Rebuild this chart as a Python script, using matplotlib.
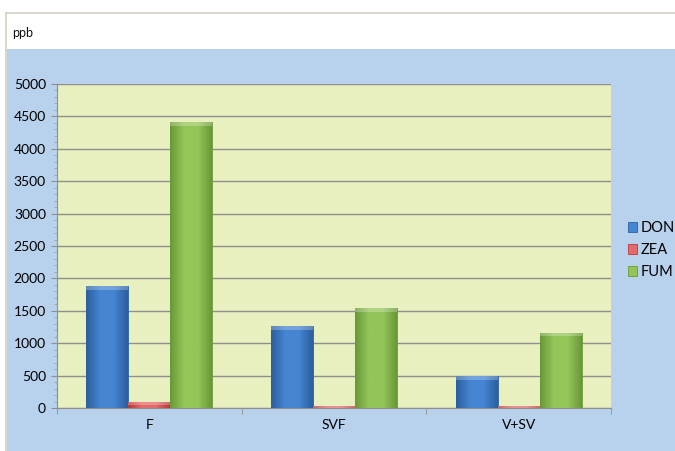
import matplotlib
matplotlib.use("Agg")
import matplotlib.pyplot as plt
import numpy as np
from matplotlib.patches import Rectangle
from matplotlib.lines import Line2D
from matplotlib.colors import LinearSegmentedColormap

categories = ["F", "SVF", "V+SV"]
series_names = ["DON", "ZEA", "FUM"]
don = [1880, 1270, 490]
zea = [100, 35, 30]
fum = [4410, 1540, 1165]
yticks = [0, 500, 1000, 1500, 2000, 2500, 3000, 3500, 4000, 4500, 5000]

colors = {"DON": ("#2c5f9f", "#4585d2"), "ZEA": ("#b83a3a", "#e56a6a"), "FUM": ("#6a9838", "#93c659")}

plt.rcParams['font.family'] = ['Lato', 'DejaVu Sans']
fig = plt.figure(figsize=(6.75, 4.51), dpi=100)
fig.patch.set_facecolor("white")

# blue background and header
fig.patches.append(Rectangle((7/675, 0), 1 - 7/675, (451-49)/451, transform=fig.transFigure,
                             facecolor="#b8d1ec", edgecolor="none", zorder=-10))
fig.lines.append(Line2D([6/675, 1], [(451-13)/451]*2, transform=fig.transFigure, color="#d6cfc2", lw=1.2, zorder=-5))
fig.lines.append(Line2D([6/675]*2, [0, (451-13)/451], transform=fig.transFigure, color="#d6cfc2", lw=1.2, zorder=-5))
fig.text(12/675, (451-33)/451, "ppb", fontsize=9, va="center", ha="left", color="#111111")

ax = fig.add_axes([57/675, (451-408)/451, (611-57)/675, (408-84)/451])
ax.set_zorder(1)
ax.set_facecolor("#e8f0c0")
ax.set_xlim(-0.5, 2.5)
ax.set_ylim(0, 5000)

x = np.arange(len(categories))
w = 0.227
data = [don, zea, fum]
for i, (name, vals) in enumerate(zip(series_names, data)):
    dark, light = colors[name]
    bars = ax.bar(x + (i - 1) * w, vals, width=w, color=light, edgecolor=dark, lw=0.6, zorder=3, label=name)
    cmap = LinearSegmentedColormap.from_list(name, [dark, light, light, dark])
    grad = np.linspace(0, 1, 64).reshape(1, -1)
    for b in bars:
        bx, by, bw, bh = b.get_x(), b.get_y(), b.get_width(), b.get_height()
        im = ax.imshow(grad, cmap=cmap, extent=(bx, bx + bw, by, by + bh), aspect="auto", zorder=3.5)
        im.set_clip_path(b)
        cap = min(bh, 60)
        ax.add_patch(Rectangle((bx, by + bh - cap), bw, cap, facecolor="white", alpha=0.25, edgecolor="none", zorder=4))

ax.set_xlim(-0.5, 2.5)
ax.set_ylim(0, 5000)
ax.set_yticks(yticks)
ax.set_yticklabels([str(t) for t in yticks], fontsize=10)
ax.set_yticks(np.arange(0, 5001, 100), minor=True)
ax.yaxis.grid(True, color="#8f8f8f", lw=1.0, zorder=1)
ax.set_axisbelow(True)
ax.set_xticks(x)
ax.set_xticklabels(categories, fontsize=10)
ax.set_xticks([-0.5, 0.5, 1.5, 2.5], minor=True)
ax.tick_params(axis="x", which="major", length=0, pad=8)
ax.tick_params(axis="x", which="minor", length=4, color="#8f8f8f", direction="out")
ax.tick_params(axis="y", which="major", length=4, color="#8f8f8f", pad=4)
ax.tick_params(axis="y", which="minor", length=2, color="#a0a0a0")
for s in ["top", "right"]:
    ax.spines[s].set_visible(False)
for s in ["left", "bottom"]:
    ax.spines[s].set_color("#8f8f8f")

leg = ax.legend(loc="center left", bbox_to_anchor=(1.02, 0.488), frameon=False, fontsize=10.5,
                handlelength=0.65, handleheight=0.65, handletextpad=0.2, labelspacing=0.55, borderaxespad=0)

fig.savefig("out.png", dpi=100)
